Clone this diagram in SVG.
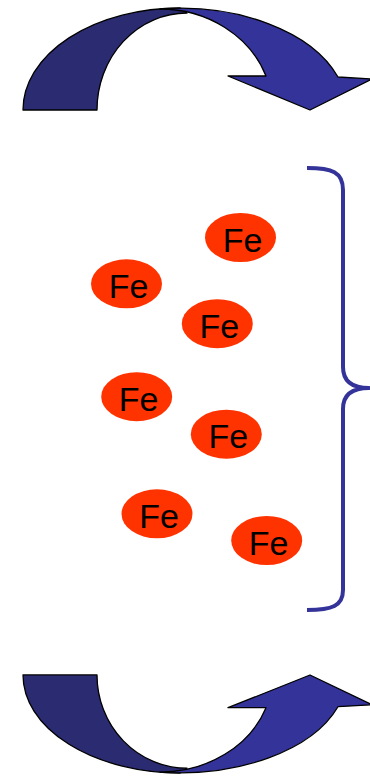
<svg xmlns="http://www.w3.org/2000/svg" width="370" height="776" viewBox="0 0 370 776">
  <style>
    .dark { fill: #2B2B72; stroke: #000; stroke-width: 1.3; stroke-linejoin: round; }
    .light { fill: #333399; stroke: #000; stroke-width: 1.3; stroke-linejoin: round; }
    .atom ellipse { fill: #FF3300; }
    .atom text { font-family: "Liberation Sans", Arial, sans-serif; font-size: 34px; fill: #000; text-anchor: middle; }
    .brace { fill: none; stroke: #333399; stroke-width: 4; stroke-linecap: butt; stroke-linejoin: round; }
  </style>
  <defs>
    <g id="curvedArrow">
      <path class="dark" d="M23,110 A157,102 0 0 1 180,8 L187,13 A90,97 0 0 0 97,110 Z"/>
      <path class="light" d="M160,9 A167,102 0 0 1 338,77 L372,79 L310,110 L228,76 L266,76 A112.6,101 0 0 0 160,9 Z"/>
    </g>
  </defs>
  <g id="arrow-top">
    <use href="#curvedArrow"/>
  </g>
  <g id="arrow-bottom">
    <use href="#curvedArrow" transform="matrix(1 0 0 -0.961 0 780.7)"/>
  </g>
  <g id="brace">
    <path class="brace" d="M307,168 C332,168 343,172 343,190 L343,367 C343,381 352,388 369,388 C352,388 343,395 343,409 L343,590 C343,606 332,610 307,610"/>
  </g>
  <g id="fe1" class="atom"><ellipse cx="240.5" cy="237.5" rx="35.5" ry="24.5"/><text x="242.5" y="251.5">Fe</text></g>
  <g id="fe2" class="atom"><ellipse cx="126.5" cy="283.8" rx="35.5" ry="24.5"/><text x="128.5" y="297.8">Fe</text></g>
  <g id="fe3" class="atom"><ellipse cx="217.3" cy="323.7" rx="35.5" ry="24.5"/><text x="219.3" y="337.7">Fe</text></g>
  <g id="fe4" class="atom"><ellipse cx="136.7" cy="396.7" rx="35.5" ry="24.5"/><text x="138.7" y="410.7">Fe</text></g>
  <g id="fe5" class="atom"><ellipse cx="226.3" cy="434.2" rx="35.5" ry="24.5"/><text x="228.3" y="448.2">Fe</text></g>
  <g id="fe6" class="atom"><ellipse cx="157" cy="513.8" rx="35.5" ry="24.5"/><text x="159" y="527.8">Fe</text></g>
  <g id="fe7" class="atom"><ellipse cx="266.7" cy="540.5" rx="35.5" ry="24.5"/><text x="268.7" y="554.5">Fe</text></g>
</svg>
